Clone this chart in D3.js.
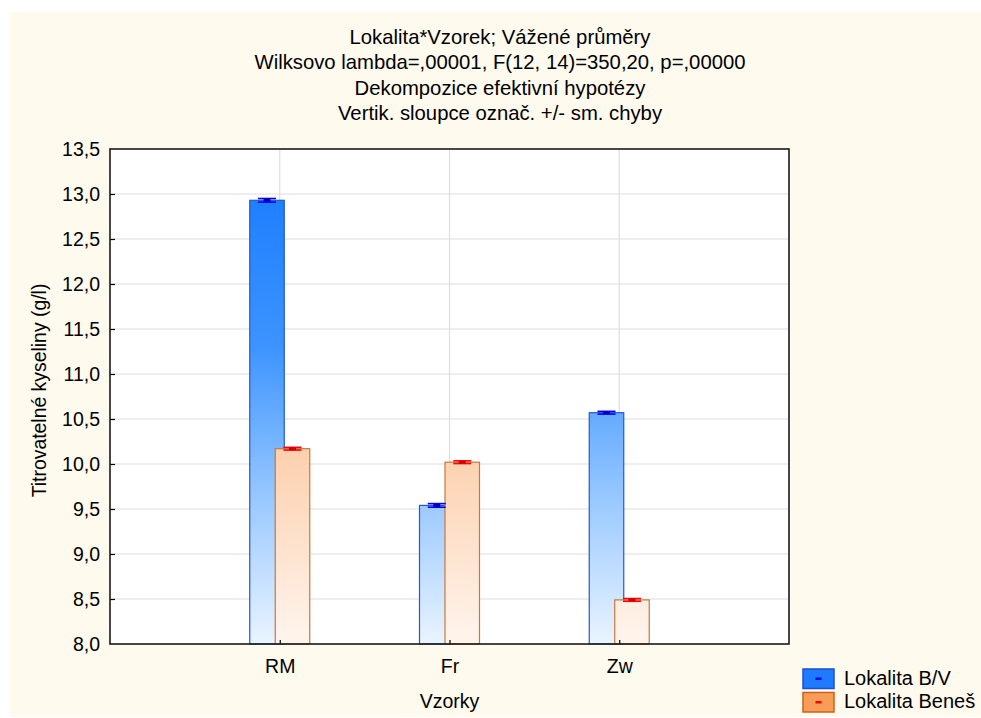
<!DOCTYPE html>
<html>
<head>
<meta charset="utf-8">
<script src="https://cdn.jsdelivr.net/npm/d3@7"></script>
<style>
html,body{margin:0;padding:0;background:#fff;}
svg{display:block;}
text{font-family:"Liberation Sans",Arial,sans-serif;fill:#000;}
</style>
</head>
<body>
<svg id="chart" width="981" height="718"></svg>
<script>
// ---- data ----
const categories = ["RM", "Fr", "Zw"];
const seriesNames = ["Lokalita B/V", "Lokalita Beneš"];
const bvValues = [12.93, 9.54, 10.57];
const benesValues = [10.17, 10.02, 8.49];
const bvErrors = [0.02, 0.02, 0.015];
const benesErrors = [0.015, 0.015, 0.015];
const yTicks = [8.0, 8.5, 9.0, 9.5, 10.0, 10.5, 11.0, 11.5, 12.0, 12.5, 13.0, 13.5];
const titleLines = [
  "Lokalita*Vzorek; Vážené průměry",
  "Wilksovo lambda=,00001, F(12, 14)=350,20, p=,00000",
  "Dekompozice efektivní hypotézy",
  "Vertik. sloupce označ. +/- sm. chyby"
];
const xTitle = "Vzorky";
const yTitle = "Titrovatelné kyseliny (g/l)";

// ---- layout ----
const L = 110, R = 789, T = 149, B = 644;
const FONT = '"Liberation Sans",Arial,sans-serif';
const svg = d3.select("#chart");

// background
svg.append("rect").attr("x", 10).attr("y", 12).attr("width", 971).attr("height", 705).attr("fill", "#fefaee");

const defs = svg.append("defs");
const gb = defs.append("linearGradient").attr("id", "gBlue").attr("gradientUnits", "userSpaceOnUse")
  .attr("x1", 0).attr("x2", 0).attr("y1", T).attr("y2", B);
gb.append("stop").attr("offset", "0").attr("stop-color", "#1478ff");
gb.append("stop").attr("offset", "0.4").attr("stop-color", "#3d94ff");
gb.append("stop").attr("offset", "0.72").attr("stop-color", "#9ccaff");
gb.append("stop").attr("offset", "1").attr("stop-color", "#eaf4ff");
const go = defs.append("linearGradient").attr("id", "gOrange").attr("gradientUnits", "userSpaceOnUse")
  .attr("x1", 0).attr("x2", 0).attr("y1", T).attr("y2", B);
go.append("stop").attr("offset", "0").attr("stop-color", "#f7a060");
go.append("stop").attr("offset", "0.6").attr("stop-color", "#fccfac");
go.append("stop").attr("offset", "1").attr("stop-color", "#fff5ee");

// plot area
svg.append("rect").attr("x", L).attr("y", T).attr("width", R - L).attr("height", B - T).attr("fill", "#fff");

const x = d3.scalePoint().domain(categories).range([L, R]).padding(1);
const y = d3.scaleLinear().domain([8.0, 13.5]).range([B, T]);

// grid
svg.append("g").selectAll("line").data(yTicks.slice(1, -1)).join("line")
  .attr("x1", L).attr("x2", R).attr("y1", d => y(d)).attr("y2", d => y(d))
  .attr("stroke", "#dedede").attr("stroke-width", 1.2);
svg.append("g").selectAll("line").data(categories).join("line")
  .attr("x1", d => x(d)).attr("x2", d => x(d)).attr("y1", T).attr("y2", B)
  .attr("stroke", "#dedede").attr("stroke-width", 1.2);

// bars
const barW = 34.5, overlap = 9;
const series = [
  {name: seriesNames[0], values: bvValues, errs: bvErrors, fill: "url(#gBlue)", stroke: "#2458d0", err: "#0000ff", mark: "#0000b0", off: -(barW - overlap / 2)},
  {name: seriesNames[1], values: benesValues, errs: benesErrors, fill: "url(#gOrange)", stroke: "#c87838", err: "#ff0000", mark: "#d00000", off: -overlap / 2}
];
series.forEach(s => {
  const g = svg.append("g");
  g.selectAll("rect").data(categories).join("rect")
    .attr("x", (c) => x(c) + s.off)
    .attr("y", (c, i) => y(s.values[i]))
    .attr("width", barW)
    .attr("height", (c, i) => y(8.0) - y(s.values[i]))
    .attr("fill", s.fill).attr("stroke", s.stroke).attr("stroke-width", 1.2);
});
// error bars
series.forEach(s => {
  const g = svg.append("g");
  categories.forEach((c, i) => {
    const cx = x(c) + s.off + barW / 2;
    const yt = y(s.values[i] + s.errs[i]), yb = y(s.values[i] - s.errs[i]), ym = y(s.values[i]);
    g.append("line").attr("x1", cx - 9).attr("x2", cx + 9).attr("y1", yt).attr("y2", yt).attr("stroke", s.err).attr("stroke-width", 1.6);
    g.append("line").attr("x1", cx - 9).attr("x2", cx + 9).attr("y1", yb).attr("y2", yb).attr("stroke", s.err).attr("stroke-width", 1.6);
    g.append("line").attr("x1", cx).attr("x2", cx).attr("y1", yt).attr("y2", yb).attr("stroke", s.err).attr("stroke-width", 1.5);
    g.append("rect").attr("x", cx - 3.5).attr("y", ym - 1.5).attr("width", 7).attr("height", 3).attr("fill", s.mark);
  });
});

// axes
const fmt = d => d3.format(".1f")(d).replace(".", ",");
const yAxis = svg.append("g").attr("transform", `translate(${L},0)`)
  .call(d3.axisLeft(y).tickValues(yTicks).tickSize(-5).tickPadding(10).tickFormat(fmt));
const xAxis = svg.append("g").attr("transform", `translate(0,${B})`)
  .call(d3.axisBottom(x).tickSize(-4).tickPadding(15));
[yAxis, xAxis].forEach(a => {
  a.select(".domain").remove();
  a.selectAll(".tick line").attr("stroke", "#000").attr("stroke-width", 1.2);
  a.selectAll("text").attr("font-size", 19.5).attr("fill", "#000").style("font-family", FONT);
});
yAxis.selectAll(".tick").filter(d => d === 8.0 || d === 13.5).select("line").remove();

// frame
svg.append("rect").attr("x", L).attr("y", T).attr("width", R - L).attr("height", B - T)
  .attr("fill", "none").attr("stroke", "#1a1a1a").attr("stroke-width", 1.6);

// titles
svg.append("g").selectAll("text").data(titleLines).join("text")
  .attr("x", 500).attr("y", (d, i) => 43.5 + i * 25.6)
  .attr("text-anchor", "middle").attr("font-size", 20.3).text(d => d);
svg.append("text").attr("x", (L + R) / 2).attr("y", 708).attr("text-anchor", "middle")
  .attr("font-size", 19.5).text(xTitle);
svg.append("text").attr("transform", `translate(46,${390.5}) rotate(-90)`).attr("text-anchor", "middle")
  .attr("font-size", 19.4).text(yTitle);

// legend
const legend = svg.append("g");
const legFill = ["#1e7bff", "#f89c58"], legStroke = ["#1f4fd0", "#c8641e"];
seriesNames.forEach((n, i) => {
  const yy = 669 + i * 23.5;
  legend.append("rect").attr("x", 803).attr("y", yy).attr("width", 31).attr("height", 19.5)
    .attr("fill", legFill[i]).attr("stroke", legStroke[i]).attr("stroke-width", 1.5);
  legend.append("rect").attr("x", 815.5).attr("y", yy + 8.5).attr("width", 6).attr("height", 2.5)
    .attr("fill", series[i].err);
  legend.append("text").attr("x", 844).attr("y", yy + 15.5).attr("font-size", 20).text(n);
});
</script>
</body>
</html>
